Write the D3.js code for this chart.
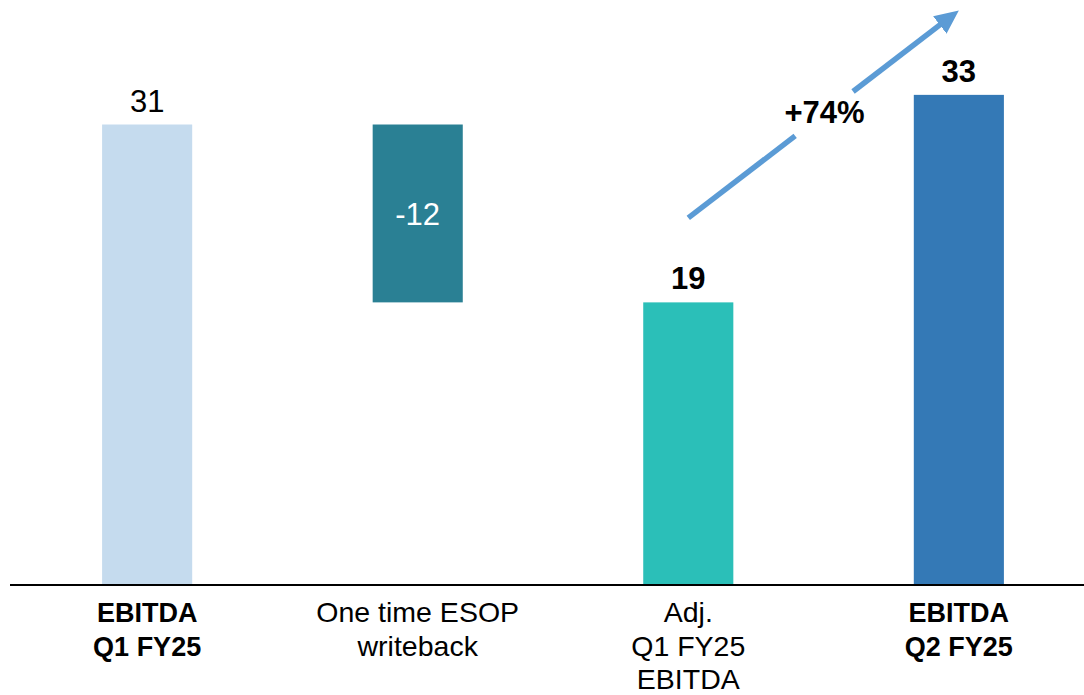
<!DOCTYPE html>
<html>
<head>
<meta charset="utf-8">
<script src="https://cdn.jsdelivr.net/npm/d3@7"></script>
<style>
  html, body { margin: 0; padding: 0; background: #fff; }
  svg { display: block; font-family: "Liberation Sans", Arial, sans-serif; }
</style>
</head>
<body>
<svg id="chart" width="1084" height="695"></svg>
<script>
// ---- data ----
const categories = ["EBITDA Q1 FY25", "One time ESOP writeback", "Adj. Q1 FY25 EBITDA", "EBITDA Q2 FY25"];
const labelLines = [["EBITDA", "Q1 FY25"], ["One time ESOP", "writeback"], ["Adj.", "Q1 FY25", "EBITDA"], ["EBITDA", "Q2 FY25"]];
const values = [31, -12, 19, 33];
const kinds = ["total", "delta", "total", "total"];
const boldLabels = [true, false, false, true];
const boldValues = [false, false, true, true];
const colors = ["#c5dbee", "#2a8094", "#2bbfb8", "#3479b6"];
const growthLabel = "+74%";
const arrowFrom = { cat: 2, value: 24.7 };
const arrowTo = { cat: 3, value: 38.7 };

// ---- build waterfall rows ----
let running = 0;
const rows = categories.map((c, i) => {
  let y0, y1;
  if (kinds[i] === "total") { y0 = 0; y1 = values[i]; running = values[i]; }
  else { y0 = running + values[i]; y1 = running; running = running + values[i]; }
  return { cat: c, i, value: values[i], kind: kinds[i], y0, y1 };
});

const svg = d3.select("#chart");
const x = d3.scaleBand().domain(categories).range([12, 1094]).paddingInner(0.667).paddingOuter(0.333);
const y = d3.scaleLinear().domain([0, 39.4]).range([584, 0]);

// bars
svg.append("g").selectAll("rect").data(rows).join("rect")
  .attr("x", d => x(d.cat))
  .attr("width", x.bandwidth())
  .attr("y", d => y(Math.max(d.y0, d.y1)))
  .attr("height", d => Math.abs(y(d.y0) - y(d.y1)))
  .attr("fill", (d, i) => colors[i]);

// baseline axis
const axis = d3.axisBottom(x).tickSize(0).tickFormat("");
const gAxis = svg.append("g").attr("transform", `translate(0,${y(0) + 1})`).call(axis);
gAxis.select(".domain").attr("d", "M10,0H1084").attr("stroke", "#000").attr("stroke-width", 2);

// category labels
const gl = svg.append("g");
rows.forEach((d, i) => {
  const t = gl.append("text")
    .attr("x", x(d.cat) + x.bandwidth() / 2)
    .attr("y", 622)
    .attr("text-anchor", "middle")
    .attr("font-size", boldLabels[i] ? 27 : 28.5)
    .attr("font-weight", boldLabels[i] ? "bold" : "normal")
    .attr("fill", "#000");
  labelLines[i].forEach((ln, k) => {
    t.append("tspan").attr("x", x(d.cat) + x.bandwidth() / 2).attr("dy", k === 0 ? 0 : 33.5).text(ln);
  });
});

// value labels
svg.append("g").selectAll("text").data(rows).join("text")
  .attr("x", d => x(d.cat) + x.bandwidth() / 2)
  .attr("y", d => d.kind === "delta" ? (y(d.y0) + y(d.y1)) / 2 + 11.5 : y(d.y1) - 13)
  .attr("text-anchor", "middle")
  .attr("font-size", 31)
  .attr("font-weight", (d, i) => boldValues[i] ? "bold" : "normal")
  .attr("fill", d => d.kind === "delta" ? "#fff" : "#000")
  .text(d => d.value);

// growth arrow
const ax0 = x(categories[arrowFrom.cat]) + x.bandwidth() / 2, ay0 = y(arrowFrom.value);
const ax1 = x(categories[arrowTo.cat]) + x.bandwidth() / 2, ay1 = y(arrowTo.value);
const pt = t => [ax0 + (ax1 - ax0) * t, ay0 + (ay1 - ay0) * t];
const arrowColor = "#5b9bd5";
const defs = svg.append("defs");
defs.append("marker").attr("id", "ah")
  .attr("markerUnits", "userSpaceOnUse")
  .attr("viewBox", "0 0 24 22").attr("refX", 24).attr("refY", 11)
  .attr("markerWidth", 24).attr("markerHeight", 22).attr("orient", "auto")
  .append("path").attr("d", "M0,0L24,11L0,22Z").attr("fill", arrowColor);
const gapA = 0.395, gapB = 0.609;
const p0 = pt(0), pA = pt(gapA), pB = pt(gapB), p1 = pt(0.96);
const ga = svg.append("g");
ga.append("line").attr("x1", p0[0]).attr("y1", p0[1]).attr("x2", pA[0]).attr("y2", pA[1])
  .attr("stroke", arrowColor).attr("stroke-width", 5.5);
ga.append("line").attr("x1", pB[0]).attr("y1", pB[1]).attr("x2", p1[0]).attr("y2", p1[1])
  .attr("stroke", arrowColor).attr("stroke-width", 5.5);
ga.append("path").attr("d", `M${pt(0.9)[0]},${pt(0.9)[1]}L${ax1},${ay1}`)
  .attr("stroke", "none").attr("fill", "none").attr("marker-end", "url(#ah)");

// growth label
svg.append("text")
  .attr("x", (pA[0] + pB[0]) / 2 + 0.5)
  .attr("y", 123)
  .attr("text-anchor", "middle")
  .attr("font-size", 31)
  .attr("font-weight", "bold")
  .attr("fill", "#000")
  .text(growthLabel);
</script>
</body>
</html>
